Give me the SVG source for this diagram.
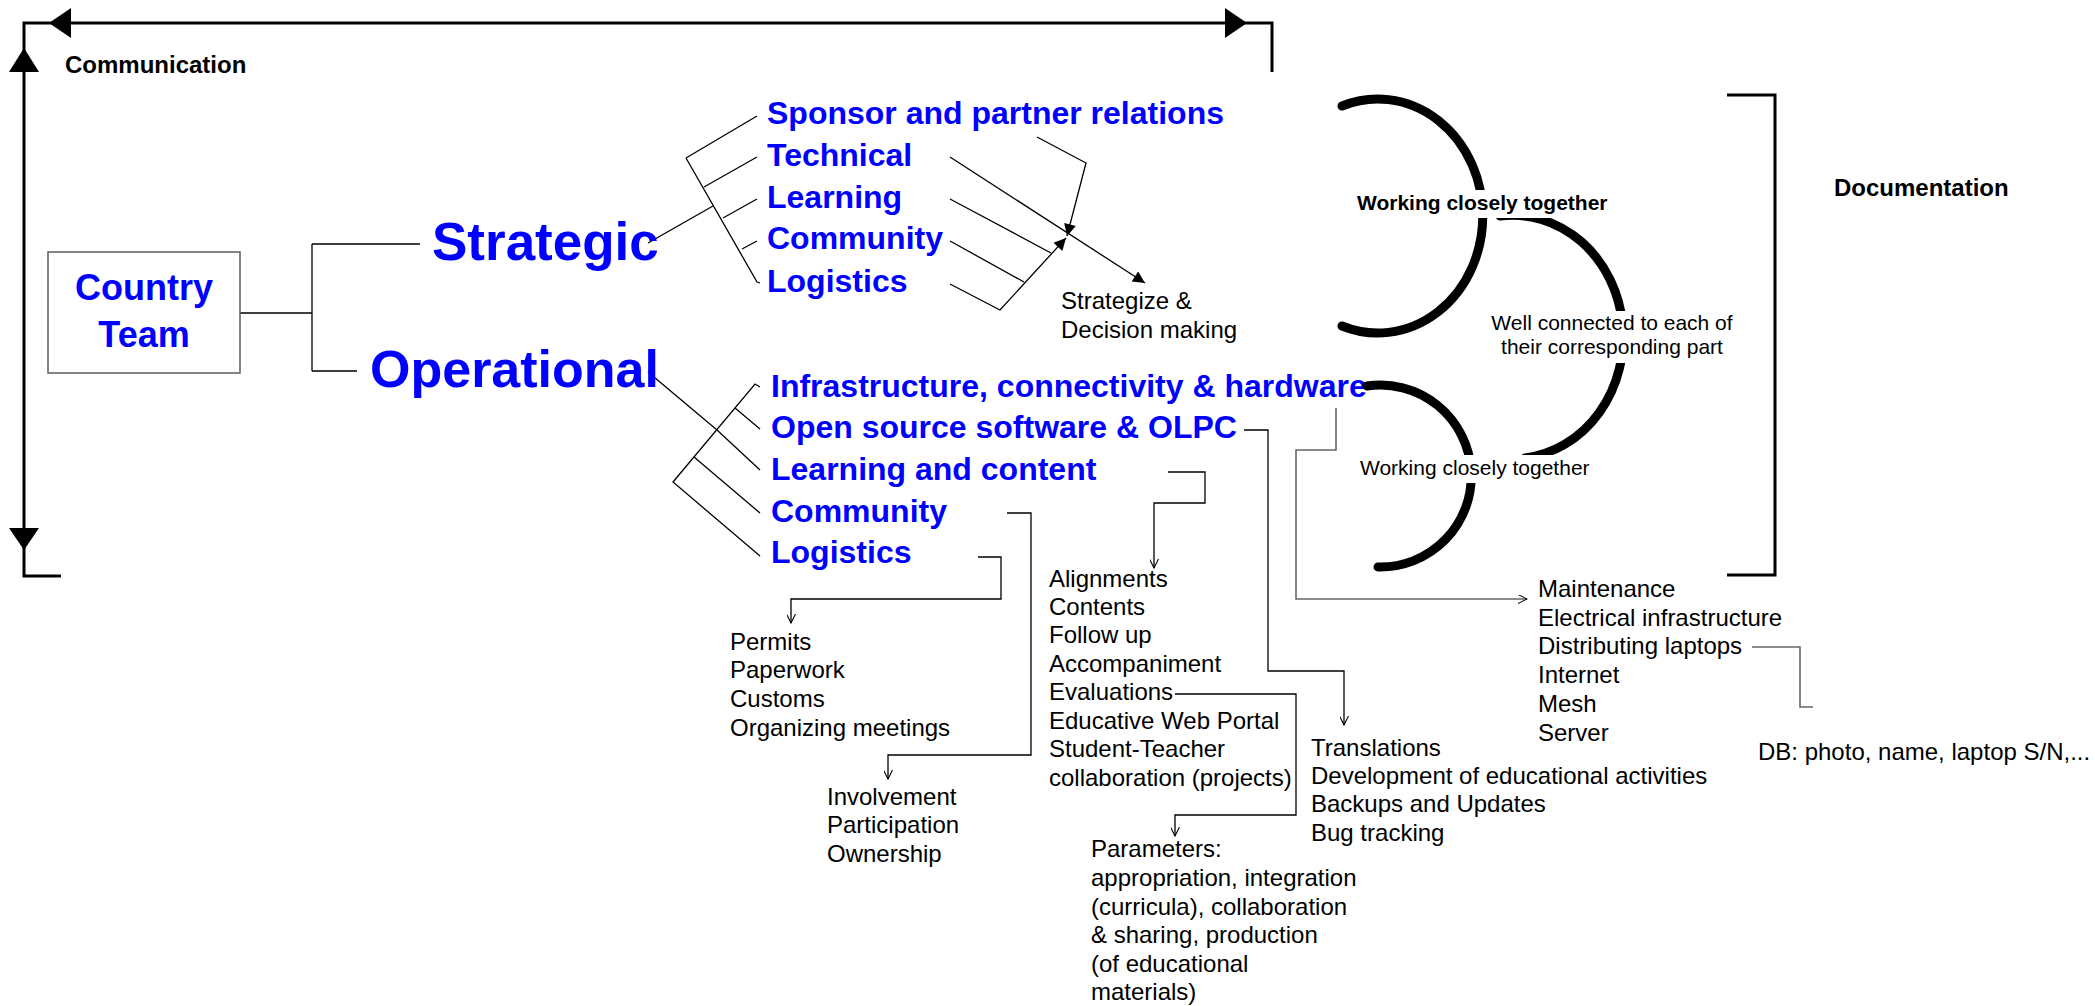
<svg xmlns="http://www.w3.org/2000/svg" width="2095" height="1006" viewBox="0 0 2095 1006">
<defs>
<style>
.t{font-family:"Liberation Sans",Arial,sans-serif;fill:#000}
.r24{font-size:24px}
.b24{font-size:24px;font-weight:bold}
.r21{font-size:21px}
.b21{font-size:21px;font-weight:bold}
.blue{fill:#0000FF;font-weight:bold}
.b32{font-size:32px}
.ln{fill:none;stroke:#000;stroke-width:1.3}
.gr{fill:none;stroke:#666;stroke-width:1.6}
.thick{fill:none;stroke:#000;stroke-width:3}
.arc{fill:none;stroke:#000;stroke-width:9;stroke-linecap:round}
</style>
<marker id="tri" viewBox="0 0 10 10" refX="10" refY="5" markerWidth="18" markerHeight="12" markerUnits="userSpaceOnUse" orient="auto"><path d="M0,0 L10,5 L0,10 z" fill="#000"/></marker>
<marker id="vee" viewBox="0 0 10 10" refX="10" refY="5" markerWidth="10" markerHeight="9" markerUnits="userSpaceOnUse" orient="auto"><path d="M0,0 L10,5 L0,10" fill="none" stroke="#000" stroke-width="1.2"/></marker>
</defs>
<rect width="2095" height="1006" fill="#fff"/>

<g id="communication">
<path class="thick" d="M1272,72 L1272,23 L24,23 L24,576 L61,576"/>
<polygon points="49,23 71,8 71,38" fill="#000"/>
<polygon points="1247,23 1225,8 1225,38" fill="#000"/>
<polygon points="24,48 9,72 39,72" fill="#000"/>
<polygon points="24,550 9,528 39,528" fill="#000"/>
<text class="t b24" x="65" y="73">Communication</text>
</g>

<g id="connectors">
<path class="ln" d="M240,313 L312,313 M312,244 L312,371 M312,244 L420,244 M312,371 L357,371"/>
<path class="ln" d="M648,243 L713,206 M686,158 L757,282 L760,283 M686,158 L757,116 M704,187 L757,157 M723,218 L757,199 M742,249 L757,241"/>
<path class="ln" d="M648,372 L717,430 M760,387 L755,384 L673,482 L760,556 M735,408 L760,429 M717,430 L760,470 M694,457 L760,513"/>
<path class="ln" d="M1037,137 L1086,163 L1067,236" marker-end="url(#tri)"/>
<path class="ln" d="M950,157 L1145,283" marker-end="url(#tri)"/>
<path class="ln" d="M950,284 L1000,310 L1066,238" marker-end="url(#tri)"/>
<path class="ln" d="M950,199 L1051,253 M950,241 L1024,282"/>
<path class="ln" d="M1244,430 L1268,430 L1268,671 L1344,671 L1344,725" marker-end="url(#vee)"/>
<path class="gr" d="M1336,408 L1336,450 L1296,450 L1296,599 L1527,599" marker-end="url(#vee)"/>
<path class="ln" d="M1168,472 L1205,472 L1205,503 L1154,503 L1154,568" marker-end="url(#vee)"/>
<path class="ln" d="M1007,513 L1031,513 L1031,755 L888,755 L888,779" marker-end="url(#vee)"/>
<path class="ln" d="M978,557 L1001,557 L1001,599 L791,599 L791,623" marker-end="url(#vee)"/>
<path class="ln" d="M1175,694 L1296,694 L1296,815 L1175,815 L1175,836" marker-end="url(#vee)"/>
<path class="gr" d="M1752,647 L1800,647 L1800,707 L1813,707"/>
</g>

<g id="country-team">
<rect x="48" y="252" width="192" height="121" fill="#fff" stroke="#666" stroke-width="1.6"/>
<text class="t blue" font-size="36" x="144" y="300" text-anchor="middle">Country</text>
<text class="t blue" font-size="36" x="144" y="347" text-anchor="middle">Team</text>
</g>

<g id="strategic"><text class="t blue" font-size="53" x="432" y="260">Strategic</text></g>
<g id="operational"><text class="t blue" font-size="52" x="370" y="387">Operational</text></g>

<g id="strategic-items">
<text class="t blue b32" x="767" y="124">Sponsor and partner relations</text>
<text class="t blue b32" x="767" y="166">Technical</text>
<text class="t blue b32" x="767" y="208">Learning</text>
<text class="t blue b32" x="767" y="249">Community</text>
<text class="t blue b32" x="767" y="292">Logistics</text>
</g>

<g id="strategize">
<text class="t r24" x="1061" y="309">Strategize &amp;</text>
<text class="t r24" x="1061" y="338">Decision making</text>
</g>

<g id="operational-items">
<text class="t blue b32" x="771" y="397">Infrastructure, connectivity &amp; hardware</text>
<text class="t blue b32" x="771" y="438">Open source software &amp; OLPC</text>
<text class="t blue b32" x="771" y="480">Learning and content</text>
<text class="t blue b32" x="771" y="522">Community</text>
<text class="t blue b32" x="771" y="563">Logistics</text>
</g>

<g id="arcs">
<path class="arc" d="M1342,106 A105,117 0 1 1 1342,326"/>
<path class="arc" d="M1500,216 A110,121 0 0 1 1525,458"/>
<path class="arc" d="M1367,386 A91,91 0 1 1 1378,567"/>
</g>

<g id="working-top">
<rect x="1354" y="190" width="260" height="28" fill="#fff"/>
<text class="t b21" x="1357" y="210">Working closely together</text>
</g>
<g id="well-connected">
<rect x="1486" y="311" width="252" height="52" fill="#fff"/>
<text class="t r21" x="1612" y="330" text-anchor="middle">Well connected to each of</text>
<text class="t r21" x="1612" y="354" text-anchor="middle">their corresponding part</text>
</g>
<g id="working-bottom">
<rect x="1356" y="455" width="240" height="28" fill="#fff"/>
<text class="t r21" x="1360" y="475">Working closely together</text>
</g>

<g id="documentation">
<path class="thick" d="M1727,95 L1775,95 L1775,575 L1727,575"/>
<text class="t b24" x="1834" y="196">Documentation</text>
</g>

<g id="logistics-list" class="t r24">
<text x="730" y="650">Permits</text>
<text x="730" y="678">Paperwork</text>
<text x="730" y="707">Customs</text>
<text x="730" y="736">Organizing meetings</text>
</g>
<g id="community-list" class="t r24">
<text x="827" y="805">Involvement</text>
<text x="827" y="833">Participation</text>
<text x="827" y="862">Ownership</text>
</g>
<g id="learning-list" class="t r24">
<text x="1049" y="587">Alignments</text>
<text x="1049" y="615">Contents</text>
<text x="1049" y="643">Follow up</text>
<text x="1049" y="672">Accompaniment</text>
<text x="1049" y="700">Evaluations</text>
<text x="1049" y="729">Educative Web Portal</text>
<text x="1049" y="757">Student-Teacher</text>
<text x="1049" y="786">collaboration (projects)</text>
</g>
<g id="parameters" class="t r24">
<text x="1091" y="857">Parameters:</text>
<text x="1091" y="886">appropriation, integration</text>
<text x="1091" y="915">(curricula), collaboration</text>
<text x="1091" y="943">&amp; sharing, production</text>
<text x="1091" y="972">(of educational</text>
<text x="1091" y="1000">materials)</text>
</g>
<g id="software-list" class="t r24">
<text x="1311" y="756">Translations</text>
<text x="1311" y="784">Development of educational activities</text>
<text x="1311" y="812">Backups and Updates</text>
<text x="1311" y="841">Bug tracking</text>
</g>
<g id="infra-list" class="t r24">
<text x="1538" y="597">Maintenance</text>
<text x="1538" y="626">Electrical infrastructure</text>
<text x="1538" y="654">Distributing laptops</text>
<text x="1538" y="683">Internet</text>
<text x="1538" y="712">Mesh</text>
<text x="1538" y="741">Server</text>
</g>
<g id="db"><text class="t r24" x="1758" y="760">DB: photo, name, laptop S/N,...</text></g>
</svg>
